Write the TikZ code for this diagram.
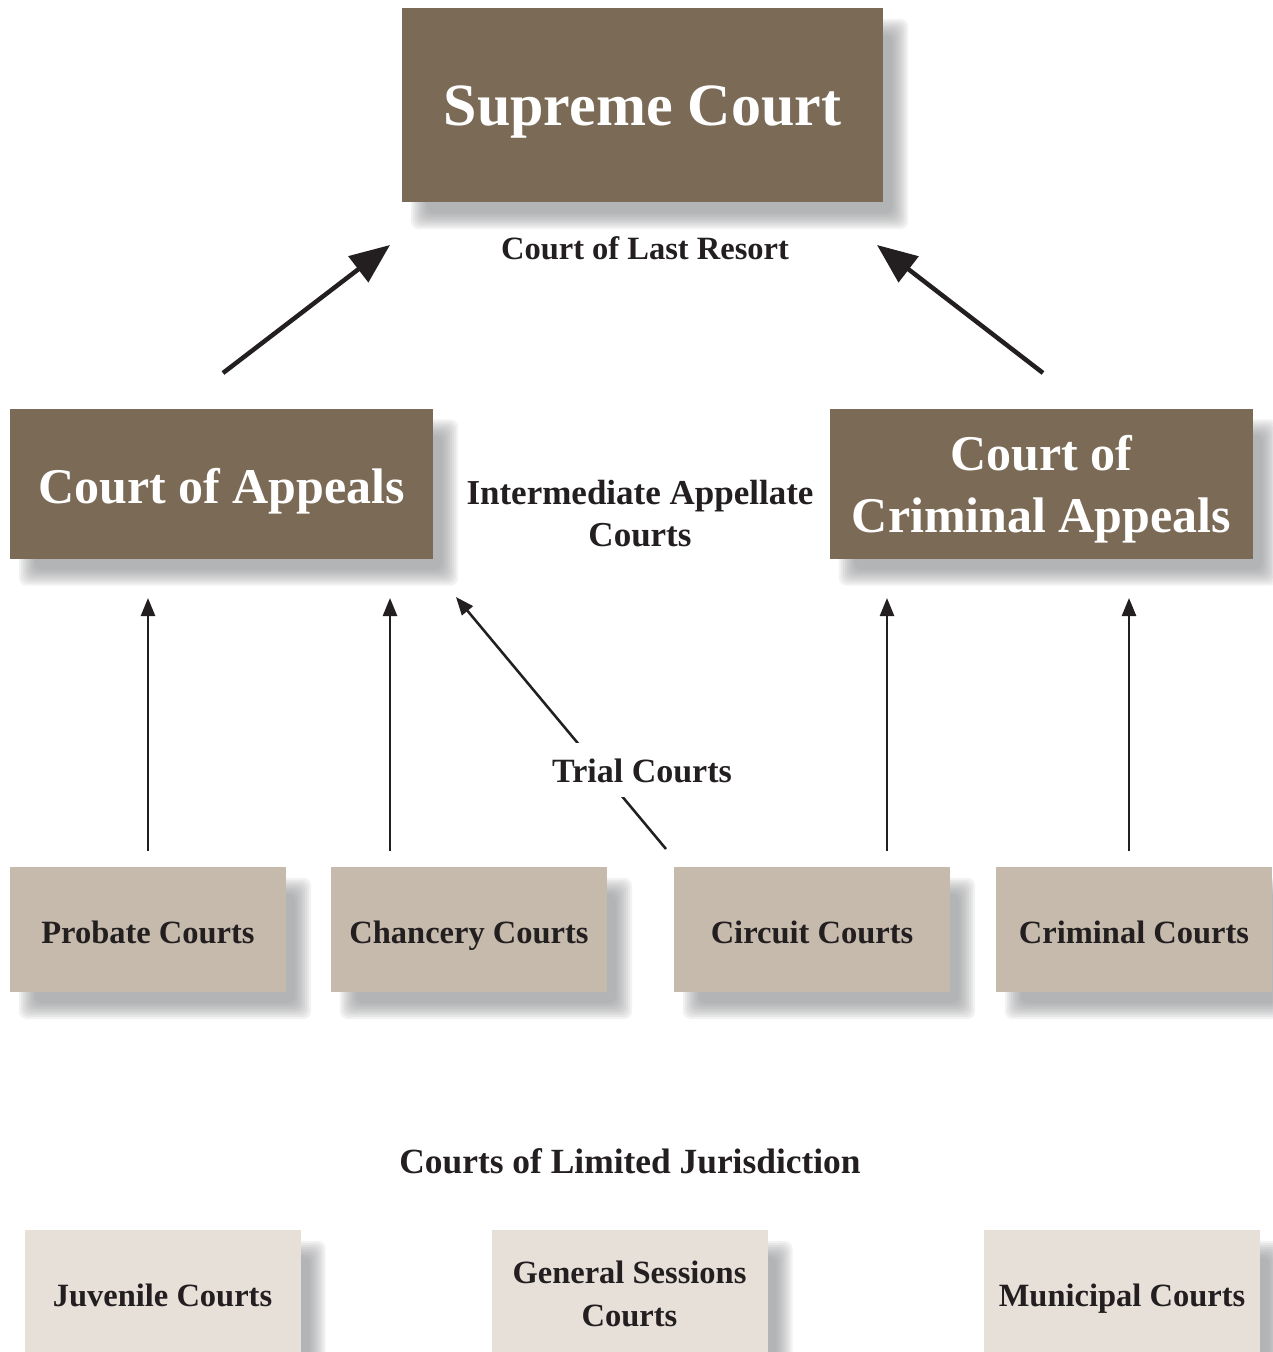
\documentclass[tikz,border=0pt]{standalone}
\usepackage{fontspec}
\setmainfont{Liberation Serif}
\usetikzlibrary{arrows.meta,calc,backgrounds}
\definecolor{darkbrown}{HTML}{7B6A55}
\definecolor{midbeige}{HTML}{C6BAAD}
\definecolor{lightbeige}{HTML}{E6E0D9}
\definecolor{shadowc}{HTML}{8E9094}
\definecolor{inkc}{HTML}{231F20}
\newcommand{\dropshade}[1]{%
  \foreach \r in {-8,-6,...,8}{%
    \fill[shadowc, opacity=0.11, rounded corners=8pt]
      ($(#1.north west)+(17-\r,19-\r)$) rectangle ($(#1.south east)+(17+\r,19+\r)$);
  }}
% text block whose last baseline sits #1 above the bottom of its box
\newcommand{\tl}[2]{\raisebox{0pt}[#1][0pt]{\begin{tabular}[b]{@{}c@{}}#2\end{tabular}}}
\tikzset{
  topbox/.style={fill=darkbrown, text=white, inner sep=0pt,
    font=\bfseries\fontsize{50}{62}\selectfont},
  trialbox/.style={fill=midbeige, text=inkc, inner sep=0pt,
    minimum width=276pt, minimum height=125pt, font=\bfseries\fontsize{32.5}{43}\selectfont},
  limbox/.style={fill=lightbeige, text=inkc, inner sep=0pt,
    minimum width=276pt, minimum height=140pt, font=\bfseries\fontsize{32.5}{43}\selectfont},
  lbl/.style={text=inkc, inner sep=0pt, anchor=base, font=\bfseries\fontsize{33}{42}\selectfont},
  bigarrow/.style={draw=inkc, line width=4.5pt, -{Triangle[length=40pt,width=32pt]}},
  thinarrow/.style={draw=inkc, line width=2.5pt, -{Triangle[length=18pt,width=14pt]}}
}
\begin{document}
\begin{tikzpicture}[x=1pt,y=-1pt]
\useasboundingbox (0,0) rectangle (1272,1352);
% top
\node[topbox, minimum width=481pt, minimum height=194pt, font=\bfseries\fontsize{60}{66}\selectfont] (supreme) at (642.5,105) {\tl{40pt}{Supreme Court}};
\node[lbl, font=\bfseries\fontsize{32.5}{40}\selectfont] (lastresort) at (645,259) {Court of Last Resort};
% intermediate
\node[topbox, minimum width=423pt, minimum height=150pt] (appeals) at (221.5,483.5) {\tl{39pt}{Court of Appeals}};
\node[topbox, minimum width=423pt, minimum height=150pt] (crimappeals) at (1041.5,483.5) {\tl{97pt}{Court of\\Criminal Appeals}};
\node[lbl, font=\bfseries\fontsize{35}{42}\selectfont] (intermediate) at (640,546) {\tl{0pt}{Intermediate Appellate\\Courts}};
% trial
\node[trialbox] (probate) at (148,929.5) {\tl{27pt}{Probate Courts}};
\node[trialbox] (chancery) at (469,929.5) {\tl{27pt}{Chancery Courts}};
\node[trialbox] (circuit) at (812,929.5) {\tl{27pt}{Circuit Courts}};
\node[trialbox] (criminal) at (1134,929.5) {\tl{27pt}{Criminal Courts}};
% limited
\node[lbl, font=\bfseries\fontsize{35.4}{42}\selectfont] (limited) at (630,1173) {Courts of Limited Jurisdiction};
\node[limbox] (juvenile) at (162.5,1300) {\tl{12pt}{Juvenile Courts}};
\node[limbox] (general) at (629.5,1300) {\tl{52pt}{General Sessions\\Courts}};
\node[limbox] (municipal) at (1122,1300) {\tl{12pt}{Municipal Courts}};
% background and shadows
\begin{pgfonlayer}{background}
\fill[white] (0,0) rectangle (1272,1352);
\foreach \n in {supreme,appeals,crimappeals,probate,chancery,circuit,criminal,juvenile,general,municipal}{\dropshade{\n}}
\end{pgfonlayer}
% connector end points
\coordinate (sa1) at (223,373);
\coordinate (ea1) at (390,245);
\coordinate (sa2) at (1043,373);
\coordinate (ea2) at (877,245);
\coordinate (sp) at (148,851);
\coordinate (ep) at (148,598);
\coordinate (sc) at (390,851);
\coordinate (ec) at (390,598);
\coordinate (sci) at (887,851);
\coordinate (eci) at (887,598);
\coordinate (scr) at (1129,851);
\coordinate (ecr) at (1129,598);
\coordinate (sd) at (666,849);
\coordinate (ed) at (456,597);
% connectors
\draw[bigarrow] (sa1) -- (ea1);
\draw[bigarrow] (sa2) -- (ea2);
\draw[thinarrow] (sp) -- (ep);
\draw[thinarrow] (sc) -- (ec);
\draw[thinarrow] (sci) -- (eci);
\draw[thinarrow] (scr) -- (ecr);
\draw[thinarrow] (sd) -- (ed);
\node[lbl, fill=white, inner xsep=4pt, inner ysep=15pt, font=\bfseries\fontsize{34}{40}\selectfont] (trial) at (642,782) {Trial Courts};
\end{tikzpicture}
\end{document}
